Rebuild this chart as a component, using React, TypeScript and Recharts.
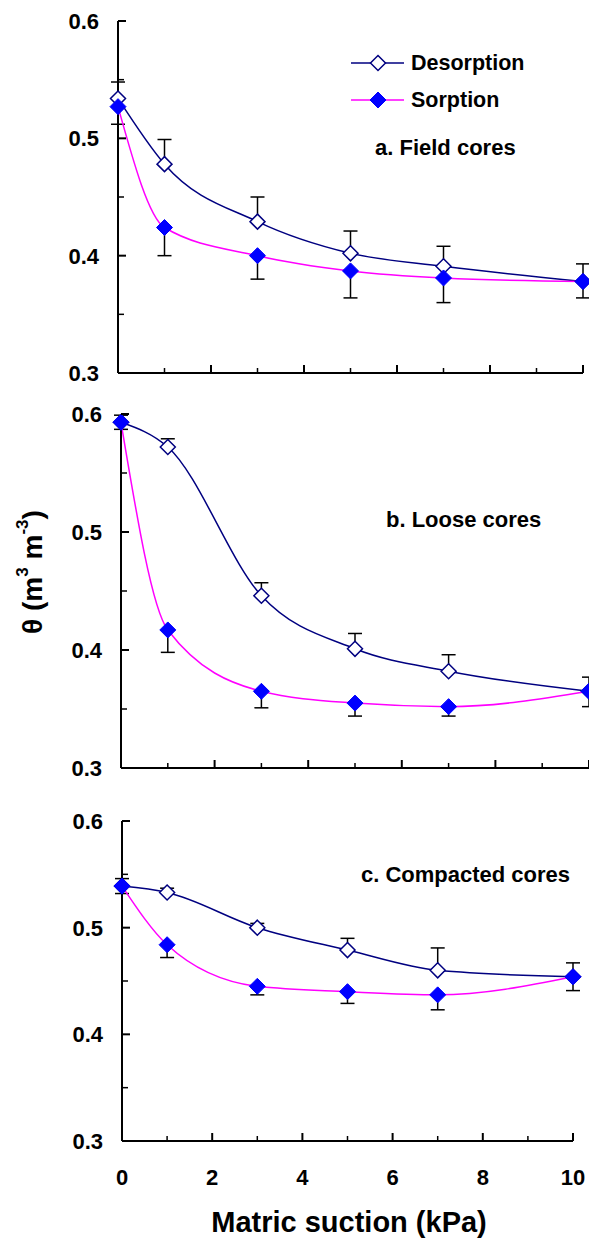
import { LineChart, Line, XAxis, YAxis, ErrorBar, Legend } from 'recharts';

const FONT = '"Liberation Sans", Arial, sans-serif';
const NAVY = '#000080';
const MAGENTA = '#FF00FF';
const BLUE = '#0000FF';

const SUCTION = [0, 1, 3, 5, 7, 10];
const X_TICKS = [0, 1, 2, 3, 4, 5, 6, 7, 8, 9, 10];
const Y_TICKS = [0.3, 0.35, 0.4, 0.45, 0.5, 0.55, 0.6];

// a. Field cores
const FIELD_DES = [0.534, 0.478, 0.429, 0.402, 0.391, 0.378];
const FIELD_DES_ERR = [0.014, 0.021, 0.021, 0.019, 0.017, 0.015];
const FIELD_SOR = [0.527, 0.424, 0.4, 0.387, 0.381, 0.378];
const FIELD_SOR_ERR = [0.015, 0.024, 0.02, 0.023, 0.021, 0.014];

// b. Loose cores
const LOOSE_DES = [0.593, 0.572, 0.446, 0.401, 0.382, 0.365];
const LOOSE_DES_ERR = [0.006, 0.007, 0.011, 0.013, 0.014, 0.012];
const LOOSE_SOR = [0.593, 0.417, 0.365, 0.355, 0.352, 0.365];
const LOOSE_SOR_ERR = [0.006, 0.019, 0.014, 0.011, 0.008, 0.013];

// c. Compacted cores
const COMP_DES = [0.539, 0.533, 0.5, 0.479, 0.46, 0.454];
const COMP_DES_ERR = [0.007, 0.004, 0.004, 0.011, 0.021, 0.013];
const COMP_SOR = [0.539, 0.484, 0.445, 0.44, 0.437, 0.454];
const COMP_SOR_ERR = [0.007, 0.012, 0.008, 0.011, 0.014, 0.013];

function buildRows(des: number[], desErr: number[], sor: number[], sorErr: number[]) {
  // desorption bars go up only, sorption bars go down only
  return SUCTION.map((x, i) => ({
    x,
    des: des[i],
    desErr: [0, desErr[i]],
    sor: sor[i],
    sorErr: [sorErr[i], 0],
  }));
}

const diamond = (cx: number, cy: number, r: number) =>
  `M${cx},${cy - r} L${cx + r},${cy} L${cx},${cy + r} L${cx - r},${cy} Z`;

function OpenDot(props: any) {
  const { cx, cy, index } = props;
  if (cx == null || cy == null) return null;
  return <path key={`o${index}`} d={diamond(cx, cy, 7.5)} fill="#fff" stroke={NAVY} strokeWidth={1.5} />;
}

function FilledDot(props: any) {
  const { cx, cy, index } = props;
  if (cx == null || cy == null) return null;
  return <path key={`f${index}`} d={diamond(cx, cy, 8)} fill={BLUE} stroke={BLUE} strokeWidth={1} />;
}

function YTick(props: any) {
  const { x, y, payload } = props;
  const v = payload.value as number;
  const major = Math.round(v * 100) % 10 === 0;
  return (
    <g>
      <line x1={x} x2={x + (major ? 8 : 6)} y1={y} y2={y} stroke="#000" strokeWidth={major ? 2 : 1.5} />
      {major && (
        <text x={x - 19} y={y} dy="0.36em" textAnchor="end" fontFamily={FONT} fontWeight="bold" fontSize={22} fill="#000">
          {v.toFixed(1)}
        </text>
      )}
    </g>
  );
}

function makeXTick(showLabel: boolean) {
  return function XTick(props: any) {
    const { x, y, payload } = props;
    const v = payload.value as number;
    const major = v % 2 === 0;
    return (
      <g>
        <line x1={x} x2={x} y1={y} y2={y - (major ? 8 : 5)} stroke="#000" strokeWidth={major ? 2 : 1.5} />
        {showLabel && major && (
          <text x={x} y={y + 44} textAnchor="middle" fontFamily={FONT} fontWeight="bold" fontSize={22} fill="#000">
            {v}
          </text>
        )}
      </g>
    );
  };
}

function LegendBox(props: any) {
  const entries = props.payload || [];
  return (
    <svg width={200} height={75} style={{ display: 'block', overflow: 'visible' }}>
      {entries.map((e: any, i: number) => {
        const cy = 18 + i * 37;
        const open = e.value === 'Desorption';
        return (
          <g key={e.value}>
            <line x1={5} x2={58} y1={cy} y2={cy} stroke={open ? NAVY : MAGENTA} strokeWidth={1.5} />
            <path
              d={diamond(32, cy, open ? 7.5 : 8)}
              fill={open ? '#fff' : BLUE}
              stroke={open ? NAVY : BLUE}
              strokeWidth={open ? 1.5 : 1}
            />
            <text x={65} y={cy + 7} fontFamily={FONT} fontWeight="bold" fontSize={21.5} fill="#000">
              {e.value}
            </text>
          </g>
        );
      })}
    </svg>
  );
}

interface PanelProps {
  top: number;
  height: number;
  marginTop: number;
  marginRight: number;
  axisLeft: number;
  xAxisHeight: number;
  rows: ReturnType<typeof buildRows>;
  showXLabels?: boolean;
  showLegend?: boolean;
}

function Panel({ top, height, marginTop, marginRight, axisLeft, xAxisHeight, rows, showXLabels = false, showLegend = false }: PanelProps) {
  return (
    <div style={{ position: 'absolute', left: 0, top }}>
      <LineChart width={589} height={height} data={rows} margin={{ top: marginTop, right: marginRight, bottom: 0, left: 0 }}>
        <XAxis
          dataKey="x"
          type="number"
          domain={[0, 10]}
          ticks={X_TICKS}
          interval={0}
          height={xAxisHeight}
          axisLine={{ stroke: '#000', strokeWidth: 2 }}
          tickLine={false}
          tickSize={0}
          tickMargin={0}
          tick={makeXTick(showXLabels)}
        />
        <YAxis
          type="number"
          domain={[0.3, 0.6]}
          ticks={Y_TICKS}
          interval={0}
          width={axisLeft}
          axisLine={{ stroke: '#000', strokeWidth: 2 }}
          tickLine={false}
          tickSize={0}
          tickMargin={0}
          tick={YTick}
        />
        {showLegend && (
          <Legend
            layout="vertical"
            verticalAlign="middle"
            align="center"
            wrapperStyle={{ position: 'absolute', top: 45, left: 346, width: 200, height: 75 }}
            content={LegendBox}
          />
        )}
        <Line
          name="Desorption"
          dataKey="des"
          type="monotone"
          stroke={NAVY}
          strokeWidth={1.5}
          dot={OpenDot}
          activeDot={false}
          isAnimationActive={false}
        >
          <ErrorBar dataKey="desErr" width={7} stroke="#000" strokeWidth={1.5} isAnimationActive={false} />
        </Line>
        <Line
          name="Sorption"
          dataKey="sor"
          type="monotone"
          stroke={MAGENTA}
          strokeWidth={1.5}
          dot={FilledDot}
          activeDot={false}
          isAnimationActive={false}
        >
          <ErrorBar dataKey="sorErr" width={7} stroke="#000" strokeWidth={1.5} isAnimationActive={false} />
        </Line>
      </LineChart>
    </div>
  );
}

export default function App() {
  const textStyle = { fontFamily: FONT, fontWeight: 'bold' as const, fill: '#000' };
  return (
    <div style={{ position: 'absolute', left: 0, top: 0, width: 589, height: 1239, background: '#fff', overflow: 'hidden' }}>
      <Panel
        top={0}
        height={390}
        marginTop={21}
        marginRight={6}
        axisLeft={118}
        xAxisHeight={17}
        rows={buildRows(FIELD_DES, FIELD_DES_ERR, FIELD_SOR, FIELD_SOR_ERR)}
        showLegend
      />
      <Panel
        top={390}
        height={395}
        marginTop={24}
        marginRight={0}
        axisLeft={121}
        xAxisHeight={17}
        rows={buildRows(LOOSE_DES, LOOSE_DES_ERR, LOOSE_SOR, LOOSE_SOR_ERR)}
      />
      <Panel
        top={790}
        height={449}
        marginTop={31}
        marginRight={16}
        axisLeft={122}
        xAxisHeight={98}
        rows={buildRows(COMP_DES, COMP_DES_ERR, COMP_SOR, COMP_SOR_ERR)}
        showXLabels
      />
      <svg width={589} height={1239} style={{ position: 'absolute', left: 0, top: 0, pointerEvents: 'none' }}>
        <text x={375} y={155} fontSize={22} {...textStyle}>a. Field cores</text>
        <text x={386} y={527} fontSize={22} {...textStyle}>b. Loose cores</text>
        <text x={361} y={882} fontSize={22} {...textStyle}>c. Compacted cores</text>
        <text transform="rotate(-90)" x={-572} y={42} textAnchor="middle" fontSize={28} {...textStyle}>
          θ (m<tspan dy={-14} fontSize={17}>3</tspan>
          <tspan dy={14}> m</tspan>
          <tspan dy={-14} fontSize={17}>-3</tspan>
          <tspan dy={14}>)</tspan>
        </text>
        <text x={349} y={1232} textAnchor="middle" fontSize={29} {...textStyle}>Matric suction (kPa)</text>
      </svg>
    </div>
  );
}
